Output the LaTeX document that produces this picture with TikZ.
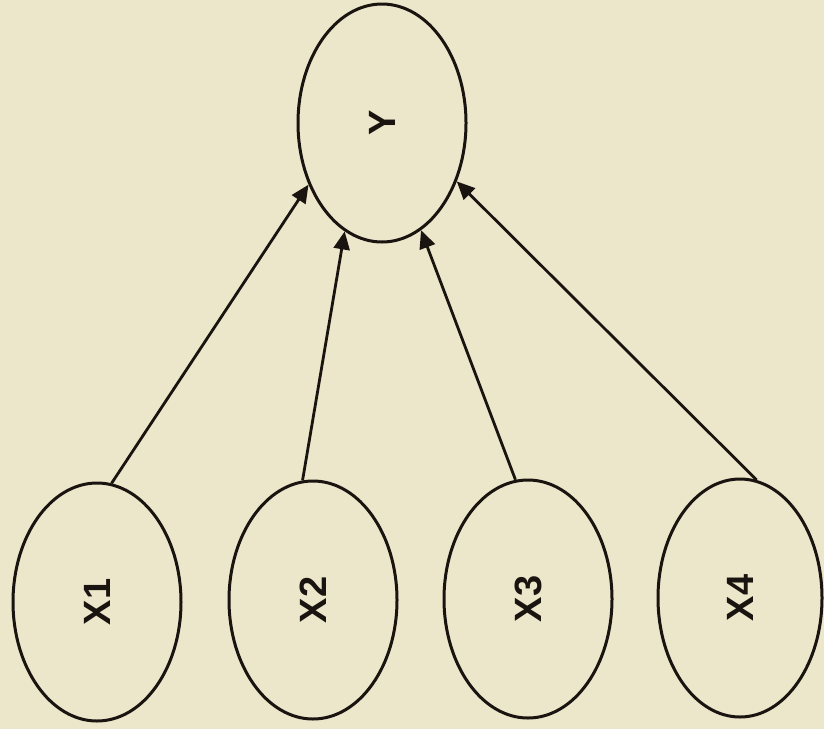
\documentclass[tikz,border=0pt]{standalone}
\usepackage{fontspec}
\setmainfont{Liberation Sans}
\usetikzlibrary{shapes.geometric,arrows.meta}
\definecolor{paper}{RGB}{236,230,202}
\definecolor{ink}{RGB}{25,20,15}
\tikzset{
  var/.style={ellipse,draw=ink,line width=3pt,inner sep=0pt,
    minimum width=168pt,minimum height=238pt,
    font=\fontsize{38}{38}\selectfont\bfseries,text=ink},
  edge/.style={draw=ink,line width=2.8pt,-{Triangle[length=18pt,width=16pt]}}
}
\begin{document}
\begin{tikzpicture}[x=1pt,y=-1pt]
\fill[paper] (0,0) rectangle (824,729);
\useasboundingbox (0,0) rectangle (824,729);
\node[var] (y) at (382,123) {\rotatebox{90}{Y}};
\node[var] (x1) at (97,602) {\rotatebox{90}{X1}};
\node[var] (x2) at (313,600) {\rotatebox{90}{X2}};
\node[var] (x3) at (528,599) {\rotatebox{90}{X3}};
\node[var,minimum width=164pt] (x4) at (740,598) {\rotatebox{90}{X4}};
\draw[edge] (x1.83.7) -- (y.220.7);
\draw[edge] (x2.95.3) -- (y.251.3);
\draw[edge] (x3.96.2) -- (y.290.9);
\draw[edge] (x4.82.7) -- (y.322.2);
\end{tikzpicture}
\end{document}
